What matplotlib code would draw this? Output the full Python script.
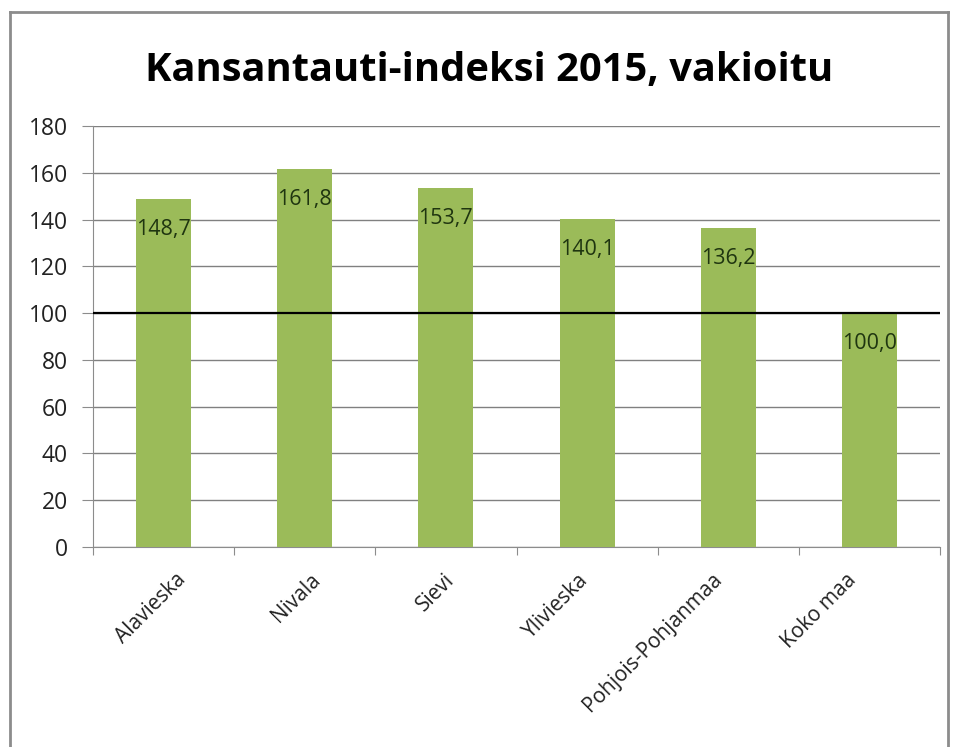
import matplotlib
matplotlib.use("Agg")
import matplotlib.pyplot as plt
import matplotlib.transforms as mtransforms
from matplotlib.lines import Line2D
import numpy as np

# tiedot kuvasta
alueet = ["Alavieska", "Nivala", "Sievi", "Ylivieska", "Pohjois-Pohjanmaa", "Koko maa"]
indeksi = [148.7, 161.8, 153.7, 140.1, 136.2, 100.0]
y_ticks = [0, 20, 40, 60, 80, 100, 120, 140, 160, 180]
viite = 100

plt.rcParams['font.family'] = ['Open Sans', 'DejaVu Sans']

fig = plt.figure(figsize=(9.58, 7.47), dpi=100)
ax = fig.add_axes([93 / 958, 1 - 547 / 747, (940 - 93) / 958, (547 - 126) / 747])

x = np.arange(len(alueet))
ax.bar(x, indeksi, width=0.39, color='#9bbb59', zorder=3)

# arvot palkkien sisään
for xi, v in zip(x, indeksi):
    ax.annotate(f"{v:.1f}".replace(".", ","), (xi, v), xytext=(0, -22),
                textcoords='offset points', ha='center', va='center',
                fontsize=15.5, color='#1f3510', zorder=5)

# vertailuviiva 100
ax.axhline(viite, color='black', lw=1.6, zorder=4)

ax.set_xlim(-0.5, len(alueet) - 0.5)
ax.set_ylim(0, 180)
ax.set_yticks(y_ticks)
ax.set_yticklabels([str(t) for t in y_ticks], fontsize=16.5, color='#222222')
ax.yaxis.grid(True, color='#808080', lw=1, zorder=0)

ax.set_xticks(np.arange(len(alueet) + 1) - 0.5, minor=False)
ax.set_xticklabels([])
ax.set_xticks(x, minor=True)
ax.set_xticklabels(alueet, minor=True, rotation=45, ha='right', va='top',
                   rotation_mode='anchor', fontsize=15, color='#222222')
ax.tick_params(axis='x', which='minor', length=0, pad=16)
ax.tick_params(axis='x', which='major', length=6, color='#8c8c8c', direction='out')
ax.tick_params(axis='y', length=8, color='#8c8c8c', pad=10)

# Excel siirtää kiertyneitä nimiä hieman vasemmalle oikealle mentäessä
for i, lab in enumerate(ax.get_xticklabels(minor=True)):
    dx = (12 - 7.2 * i) / 100
    lab.set_transform(lab.get_transform() + mtransforms.ScaledTranslation(dx, 0, fig.dpi_scale_trans))

for s in ['top', 'right']:
    ax.spines[s].set_visible(False)
for s in ['left', 'bottom']:
    ax.spines[s].set_color('#8c8c8c')

fig.text(0.511, 1 - 70 / 747, "Kansantauti-indeksi 2015, vakioitu", ha='center', va='center',
         fontsize=28.7, fontweight='bold', color='black')

# kaavion kehys
x0, x1, y0 = 10 / 958, 948 / 958, 1 - 12 / 747
for xs, ys in [([x0, x0], [0, y0]), ([x0, x1], [y0, y0]), ([x1, x1], [y0, 0])]:
    fig.add_artist(Line2D(xs, ys, color='#8c8c8c', lw=2, transform=fig.transFigure))

fig.savefig("out.png", dpi=100)
